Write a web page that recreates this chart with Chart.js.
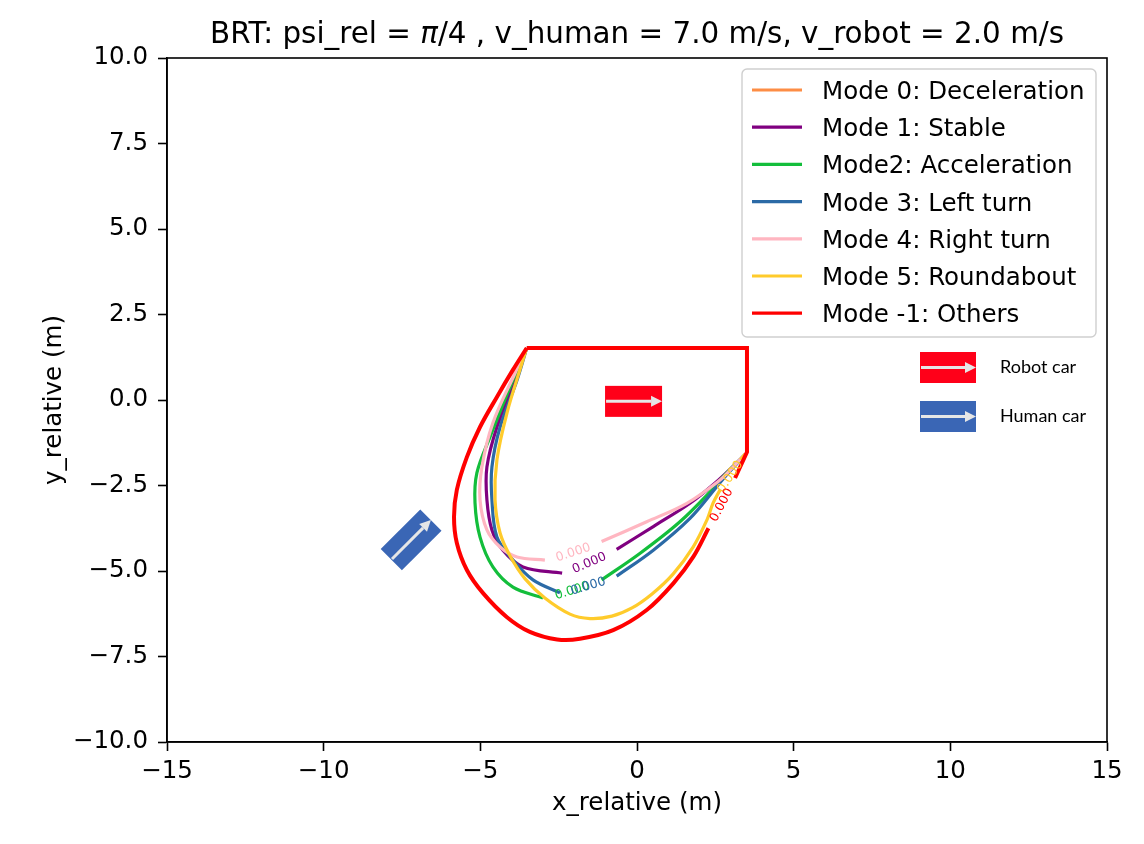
<!DOCTYPE html>
<html><head><meta charset="utf-8">
<script src="https://cdn.jsdelivr.net/npm/chart.js@4/dist/chart.umd.min.js"></script>
<style>html,body{margin:0;padding:0;background:#fff;}canvas{display:block;}</style>
</head><body>
<canvas id="c" width="1144" height="844"></canvas>
<script>
// ---------------- DATA ----------------
const xTickValues = [-15, -10, -5, 0, 5, 10, 15];
const yTickValues = [-10, -7.5, -5, -2.5, 0, 2.5, 5, 7.5, 10];

const modeLabels = ['Mode 0: Deceleration', 'Mode 1: Stable', 'Mode2: Acceleration', 'Mode 3: Left turn',
                    'Mode 4: Right turn', 'Mode 5: Roundabout', 'Mode -1: Others'];
const levelText = '0.000';

// Mode 0 has no visible contour
const mode0X = [];
const mode0Y = [];
// Mode 1: Stable
const mode1X = [-3.52, -3.89, -4.47, -4.79, -4.79, -4.63, -4.28, -3.64, -2.39, null, -0.65, 0.52, 1.69, 2.54, 3.0, 3.45];
const mode1Y = [1.52, 0.58, -0.79, -1.96, -2.92, -3.80, -4.39, -4.88, -5.06, null, -4.37, -3.70, -3.02, -2.39, -2.0, -1.60];
// Mode 2: Acceleration
const mode2X = [-3.52, -3.96, -4.69, -5.11, -5.17, -5.01, -4.60, -3.96, -3.00, null, -1.13, 0.10, 1.37, 2.44, 2.75, 3.45];
const mode2Y = [1.52, 0.58, -1.08, -2.13, -3.01, -4.01, -4.88, -5.47, -5.79, null, -5.26, -4.48, -3.56, -2.58, -2.24, -1.60];
// Mode 3: Left turn
const mode3X = [-3.52, -3.83, -4.37, -4.63, -4.63, -4.47, -3.96, -3.32, -2.46, null, -0.65, 0.52, 1.69, 2.54, 2.86, 3.45];
const mode3Y = [1.52, 0.58, -0.79, -1.96, -2.92, -4.01, -4.68, -5.26, -5.64, null, -5.15, -4.39, -3.46, -2.54, -2.19, -1.60];
// Mode 4: Right turn
const mode4X = [-3.52, -3.89, -4.60, -4.95, -5.01, -4.79, -4.37, -3.83, -2.94, null, -1.13, 0.31, 1.59, 2.65, 2.97, 3.45];
const mode4Y = [1.52, 0.79, -0.67, -1.96, -2.92, -3.80, -4.30, -4.59, -4.68, null, -4.14, -3.56, -3.02, -2.34, -2.05, -1.58];
// Mode 5: Roundabout
const mode5X = [-3.52, -3.67, -4.15, -4.47, -4.53, -4.37, -4.05, -3.57, -2.94, -2.14, -1.50, -0.80, -0.16, 0.48, 1.15, 1.79, 2.23, 2.43, 2.65, null, 3.30, 3.45];
const mode5Y = [1.52, 1.08, -0.38, -1.75, -2.92, -3.89, -4.56, -5.23, -5.79, -6.26, -6.39, -6.32, -6.08, -5.67, -5.09, -4.30, -3.51, -3.01, -2.63, null, -1.75, -1.58];
// Mode -1: Others (curved part, then straight polygon part)
const othersCurveX = [-3.52, -3.96, -4.47, -5.01, -5.43, -5.75, -5.84, -5.75, -5.43, -4.92, -4.15, -3.42, -2.55, -1.82, -0.76, 0.31, 1.16, 1.80, 2.28];
const othersCurveY = [1.52, 0.88, 0.09, -0.79, -1.67, -2.63, -3.42, -4.18, -4.97, -5.64, -6.35, -6.78, -7.00, -6.98, -6.73, -6.14, -5.36, -4.58, -3.75];
const othersEdgeX = [3.13, 3.51, 3.51, -3.52];
const othersEdgeY = [-2.28, -1.52, 1.52, 1.52];

// car markers (data positions of the pictures)
const robotCarPos = {x: -0.11, y: -0.04};
const humanCarPos = {x: -7.21, y: -4.09};
const carLegendLabels = ['Robot car', 'Human car'];

// ---------------- STYLE ----------------
const modeColors = ['#fd8d45', '#800080', '#13be3b', '#2b6aa6', '#ffb6c1', '#ffcb2b', '#ff0000'];
const FONT = 'DejaVu Sans';
const BASE = 24.5;

function toPts(xs, ys) { return xs.map((x, i) => ({x, y: ys[i]})); }
function segments(xs, ys) {
  const out = []; let cur = [];
  xs.forEach((x, i) => {
    if (x === null || ys[i] === null) { if (cur.length) out.push(cur); cur = []; }
    else cur.push({x, y: ys[i]});
  });
  if (cur.length) out.push(cur);
  return out;
}
function gaps(xs, ys) {
  const g = [];
  for (let i = 1; i < xs.length - 1; i++) if (xs[i] === null) g.push([{x: xs[i-1], y: ys[i-1]}, {x: xs[i+1], y: ys[i+1]}]);
  return g;
}

const modeData = [[mode0X, mode0Y], [mode1X, mode1Y], [mode2X, mode2Y], [mode3X, mode3Y], [mode4X, mode4Y], [mode5X, mode5Y]];
const datasets = [];
const labelGaps = [];
let drawIdx = 0;
modeData.forEach(([xs, ys], m) => {
  segments(xs, ys).forEach(seg => {
    datasets.push({label: modeLabels[m], data: seg, showLine: true, borderColor: modeColors[m], borderWidth: 3.2,
      pointRadius: 0, tension: 0.35, fill: false, order: 100 - (drawIdx++)});
  });
  gaps(xs, ys).forEach(g => labelGaps.push({color: modeColors[m], pts: g}));
});
datasets.push({label: modeLabels[6], data: toPts(othersCurveX, othersCurveY), showLine: true, borderColor: modeColors[6],
  borderWidth: 4, pointRadius: 0, tension: 0.35, fill: false, order: 100 - (drawIdx++)});
datasets.push({label: modeLabels[6], data: toPts(othersEdgeX, othersEdgeY), showLine: true, borderColor: modeColors[6],
  borderWidth: 4, pointRadius: 0, tension: 0, fill: false, order: 100 - (drawIdx++)});
labelGaps.push({color: modeColors[6], pts: [{x: othersCurveX[othersCurveX.length-1], y: othersCurveY[othersCurveY.length-1]}, {x: othersEdgeX[0], y: othersEdgeY[0]}]});

function fmt(v, dec) {
  const s = dec ? Math.abs(v).toFixed(1) : String(Math.abs(v));
  return v < 0 ? '\u2212' + s : s;
}

function drawArrow(ctx, x0, y0, x1, y1) {
  ctx.strokeStyle = '#e6e6e6'; ctx.fillStyle = '#e6e6e6'; ctx.lineWidth = 3;
  const a = Math.atan2(y1 - y0, x1 - x0), hl = 11, hw = 5.5;
  const bx = x1 - hl * Math.cos(a), by = y1 - hl * Math.sin(a);
  ctx.beginPath(); ctx.moveTo(x0, y0); ctx.lineTo(bx, by); ctx.stroke();
  ctx.beginPath(); ctx.moveTo(x1, y1);
  ctx.lineTo(bx - hw * Math.sin(a), by + hw * Math.cos(a));
  ctx.lineTo(bx + hw * Math.sin(a), by - hw * Math.cos(a));
  ctx.closePath(); ctx.fill();
}
function drawCar(ctx, cx, cy, len, wid, angle, color) {
  ctx.save(); ctx.translate(cx, cy); ctx.rotate(angle);
  ctx.fillStyle = color; ctx.fillRect(-len/2, -wid/2, len, wid);
  drawArrow(ctx, -len/2 + 1, 0, len/2, 0);
  ctx.restore();
}

const overlayPlugin = {
  id: 'overlay',
  afterDraw(chart) {
    const {ctx, chartArea: ca, scales: {x, y}} = chart;
    ctx.save();
    // frame
    ctx.strokeStyle = '#000'; ctx.lineWidth = 1.6;
    ctx.strokeRect(ca.left, ca.top, ca.right - ca.left, ca.bottom - ca.top);
    // contour labels
    ctx.font = '12.5px ' + FONT; ctx.textAlign = 'center'; ctx.textBaseline = 'middle';
    labelGaps.forEach(g => {
      const p0 = {x: x.getPixelForValue(g.pts[0].x), y: y.getPixelForValue(g.pts[0].y)};
      const p1 = {x: x.getPixelForValue(g.pts[1].x), y: y.getPixelForValue(g.pts[1].y)};
      let ang = Math.atan2(p1.y - p0.y, p1.x - p0.x);
      if (ang > Math.PI/2) ang -= Math.PI; if (ang < -Math.PI/2) ang += Math.PI;
      ctx.save(); ctx.translate((p0.x + p1.x)/2, (p0.y + p1.y)/2 + 2); ctx.rotate(ang);
      ctx.fillStyle = g.color; ctx.fillText(levelText, 0, 0); ctx.restore();
    });
    // cars
    drawCar(ctx, x.getPixelForValue(robotCarPos.x), y.getPixelForValue(robotCarPos.y), 57, 31, 0, '#ff0019');
    drawCar(ctx, x.getPixelForValue(humanCarPos.x), y.getPixelForValue(humanCarPos.y), 56, 30, -Math.PI/4, '#3a66b5');
    // car legend
    const lx = ca.left + 753, ly = ca.top + 294;
    drawCar(ctx, lx + 28, ly + 15.5, 56, 31, 0, '#ff0019');
    drawCar(ctx, lx + 28, ly + 64.5, 56, 31, 0, '#3a66b5');
    ctx.fillStyle = '#000'; ctx.font = '18px Lato'; ctx.textAlign = 'left'; ctx.textBaseline = 'middle';
    ctx.fillText(carLegendLabels[0], lx + 80, ly + 15.5);
    ctx.fillText(carLegendLabels[1], lx + 80, ly + 64.5);
    // mode legend
    const bw = 354, bh = 268, bx = ca.right - 11 - bw, by = ca.top + 11;
    ctx.beginPath(); ctx.roundRect(bx, by, bw, bh, 5);
    ctx.fillStyle = 'rgba(255,255,255,0.85)'; ctx.fill();
    ctx.strokeStyle = '#cfcfcf'; ctx.lineWidth = 1.4; ctx.stroke();
    ctx.font = BASE + 'px ' + FONT; ctx.textBaseline = 'alphabetic';
    modeLabels.forEach((lab, i) => {
      const cy = by + 21 + i * 37.2;
      ctx.strokeStyle = modeColors[i]; ctx.lineWidth = 3.2;
      ctx.beginPath(); ctx.moveTo(bx + 10, cy); ctx.lineTo(bx + 60, cy); ctx.stroke();
      ctx.fillStyle = '#000'; ctx.fillText(lab, bx + 80, cy + 8.9);
    });
    // title with italic pi
    const parts = [['BRT: psi_rel = ', ''], ['\u03c0', 'italic '], ['/4 , v_human = 7.0 m/s, v_robot = 2.0 m/s', '']];
    const tsize = 29.4;
    let total = 0;
    parts.forEach(p => { ctx.font = p[1] + tsize + 'px ' + FONT; p.w = ctx.measureText(p[0]).width; total += p.w; });
    let tx = (ca.left + ca.right) / 2 - total / 2;
    ctx.fillStyle = '#000';
    parts.forEach(p => { ctx.font = p[1] + tsize + 'px ' + FONT; ctx.fillText(p[0], tx, 43); tx += p.w; });
    ctx.restore();
  }
};

new Chart(document.getElementById('c'), {
  type: 'scatter',
  data: {datasets},
  options: {
    responsive: false, animation: false, devicePixelRatio: 1,
    layout: {padding: {left: 0, right: 37, top: 58, bottom: 0}},
    plugins: {legend: {display: false}, tooltip: {enabled: false}, title: {display: false}},
    scales: {
      x: {
        type: 'linear', min: -15, max: 15,
        afterBuildTicks: s => { s.ticks = xTickValues.map(v => ({value: v})); },
        afterFit: s => { s.height = 102; },
        ticks: {callback: v => fmt(v, false), color: '#000', font: {family: FONT, size: BASE}, padding: 6, maxRotation: 0, autoSkip: false},
        grid: {drawOnChartArea: false, drawTicks: true, tickLength: 9, tickColor: '#000', tickWidth: 1.6},
        border: {display: true, color: '#000', width: 1.6},
        title: {display: true, text: 'x_relative (m)', color: '#000', font: {family: FONT, size: BASE}, padding: {top: 0, bottom: 26}}
      },
      y: {
        type: 'linear', min: -10, max: 10,
        afterBuildTicks: s => { s.ticks = yTickValues.map(v => ({value: v})); },
        afterFit: s => { s.width = 167; },
        ticks: {callback: v => fmt(v, true), color: '#000', font: {family: FONT, size: BASE}, padding: 10, autoSkip: false},
        grid: {drawOnChartArea: false, drawTicks: true, tickLength: 9, tickColor: '#000', tickWidth: 1.6},
        border: {display: true, color: '#000', width: 1.6},
        title: {display: true, text: 'y_relative (m)', color: '#000', font: {family: FONT, size: BASE}, padding: {top: 40, bottom: 0}}
      }
    }
  },
  plugins: [overlayPlugin]
});
</script>
</body></html>
